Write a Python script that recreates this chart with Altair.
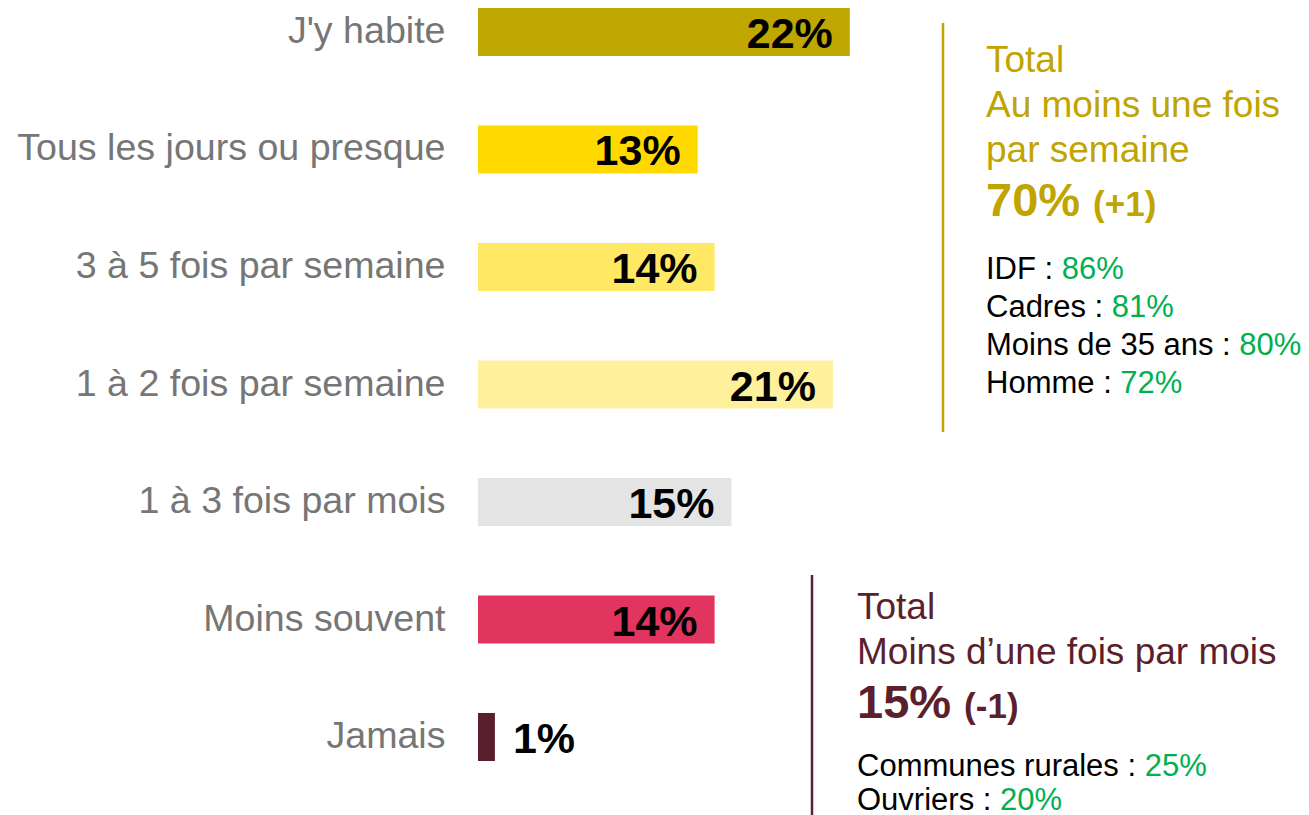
import altair as alt
import pandas as pd

# ---------------- data ----------------
categories = ["J'y habite", "Tous les jours ou presque", "3 à 5 fois par semaine",
              "1 à 2 fois par semaine", "1 à 3 fois par mois", "Moins souvent", "Jamais"]
values = [22, 13, 14, 21, 15, 14, 1]
bar_colors = ["#C0A600", "#FFD900", "#FFE964", "#FFF09B", "#E4E4E4", "#E1345E", "#5A1F2C"]

box1_title = ["Total", "Au moins une fois", "par semaine"]
box1_total = "70%"
box1_delta = "(+1)"
box1_labels = ["IDF : ", "Cadres : ", "Moins de 35 ans : ", "Homme : "]
box1_values = ["86%", "81%", "80%", "72%"]

box2_title = ["Total", "Moins d\u2019une fois par mois"]
box2_total = "15%"
box2_delta = "(-1)"
box2_labels = ["Communes rurales : ", "Ouvriers : "]
box2_values = ["25%", "20%"]

# ---------------- style ----------------
FONT = "Liberation Sans, Arial, sans-serif"
GOLD = "#C0A400"
MAROON = "#5C1F2E"
GREEN = "#00B050"
GRAY = "#767676"

W, H = 823, 753
XMAX = W / 16.9

# Arial / Liberation Sans advance widths (1/1000 em) for placing coloured value after label
REG = {' ': 278, ':': 278, 'I': 278, 'D': 722, 'F': 611, 'C': 722, 'a': 556, 'd': 556,
       'r': 333, 'e': 556, 's': 500, 'M': 833, 'o': 556, 'i': 222, 'n': 556, '3': 556,
       '5': 556, 'H': 722, 'm': 833, 'u': 556, 'l': 222, 'O': 778, 'v': 500}
BOLD = {'%': 889, ' ': 278}


def text_width(s, size, bold=False):
    table = BOLD if bold else REG
    return sum(table.get(c, 556) for c in s) / 1000.0 * size


df = pd.DataFrame({"cat": categories, "v": values, "color": bar_colors})
df["label"] = df["v"].astype(str) + "%"

y_enc = alt.Y("cat:N", sort=categories,
              scale=alt.Scale(paddingInner=0.5915, paddingOuter=0),
              axis=alt.Axis(title=None, domain=False, ticks=False, tickSize=0,
                            labelPadding=33, labelFontSize=37.6, labelColor=GRAY,
                            labelFont=FONT, labelLimit=470))
x_enc = alt.X("v:Q", scale=alt.Scale(domain=[0, XMAX], nice=False, zero=True), axis=None)

base = alt.Chart(df)
bars = base.mark_bar().encode(x=x_enc, y=y_enc, color=alt.Color("color:N", scale=None))
lab_in = base.transform_filter("datum.v >= 5").mark_text(
    align="right", baseline="alphabetic", dx=-17, dy=16, fontSize=43,
    fontWeight="bold", font=FONT, color="black").encode(x=x_enc, y=y_enc, text="label:N")
lab_out = base.transform_filter("datum.v < 5").mark_text(
    align="left", baseline="alphabetic", dx=18, dy=16, fontSize=43,
    fontWeight="bold", font=FONT, color="black").encode(x=x_enc, y=y_enc, text="label:N")

layers = [bars, lab_in, lab_out]


def txt(s, x, y, size, color, bold=False):
    return alt.Chart(pd.DataFrame({"t": [s]})).mark_text(
        align="left", baseline="alphabetic", fontSize=size, font=FONT,
        fontWeight="bold" if bold else "normal", color=color
    ).encode(x=alt.value(x), y=alt.value(y), text="t:N")


def vline(x, y1, y2, color):
    return alt.Chart(pd.DataFrame({"a": [0]})).mark_rule(color=color, strokeWidth=2.5).encode(
        x=alt.value(x), y=alt.value(y1), y2=alt.value(y2))


def box(x_line, y_top, y_bot, x_text, y_first, titles, total, delta, labels, vals, color,
        detail_gap=63, detail_step=38):
    out = [vline(x_line, y_top, y_bot, color)]
    y = y_first
    for t in titles:
        out.append(txt(t, x_text, y, 37, color))
        y += 45
    y += 9
    out.append(txt(total, x_text, y, 47, color, True))
    out.append(txt(delta, x_text + text_width(total + " ", 47, True), y, 35, color, True))
    y += detail_gap
    for lab, val in zip(labels, vals):
        out.append(txt(lab, x_text, y, 31, "black"))
        out.append(txt(val, x_text + text_width(lab, 31), y, 31, GREEN))
        y += detail_step
    return out


layers += box(465, 15, 424, 508, 63.7, box1_title, box1_total, box1_delta,
              box1_labels, box1_values, GOLD)
layers += box(334, 567, 807, 379, 611.3, box2_title, box2_total, box2_delta,
              box2_labels, box2_values, MAROON, detail_gap=58, detail_step=34)

chart = alt.layer(*layers).properties(
    width=W, height=H,
    autosize=alt.AutoSizeParams(type="none"),
    padding={"left": 470, "top": 0, "right": 0, "bottom": 54},
).configure_view(stroke=None)

chart.save("out.html", embed_options={"renderer": "svg", "actions": False})
